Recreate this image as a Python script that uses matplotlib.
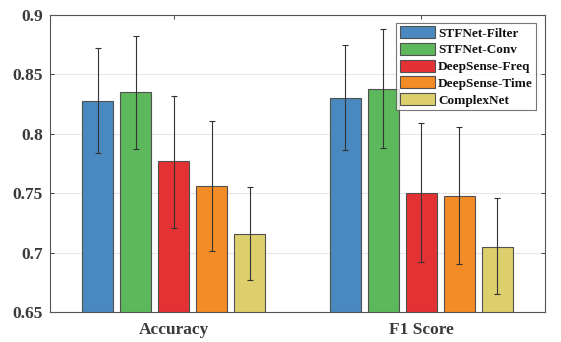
import matplotlib
matplotlib.use("Agg")
import matplotlib.pyplot as plt
import numpy as np

groups = ["Accuracy", "F1 Score"]
methods = ["STFNet-Filter", "STFNet-Conv", "DeepSense-Freq", "DeepSense-Time", "ComplexNet"]
colors = ["#4a89c0", "#5db85b", "#e43134", "#f38c26", "#dccf6c"]

acc = [0.828, 0.835, 0.777, 0.756, 0.716]
acc_lo = [0.784, 0.787, 0.721, 0.701, 0.677]
acc_hi = [0.872, 0.882, 0.832, 0.811, 0.755]
f1 = [0.830, 0.838, 0.750, 0.748, 0.705]
f1_lo = [0.786, 0.788, 0.692, 0.690, 0.665]
f1_hi = [0.875, 0.888, 0.809, 0.806, 0.746]

plt.rcParams['font.family'] = ['Liberation Serif', 'DejaVu Serif']
plt.rcParams['font.weight'] = 'bold'

fig = plt.figure(figsize=(5.61, 3.42), dpi=100)
ax = fig.add_axes([50/561, 1 - 312/342, 495/561, 297/342])

vals = np.array([acc, f1])
lo = np.array([acc_lo, f1_lo])
hi = np.array([acc_hi, f1_hi])
x = np.arange(1, len(groups) + 1)
step = 0.1535
width = 0.124
for i, m in enumerate(methods):
    xi = x + (i - 2) * step
    ax.bar(xi, vals[:, i], width, color=colors[i], edgecolor="#505050", linewidth=0.8,
           label=m, zorder=2)
    ax.errorbar(xi, vals[:, i], yerr=[vals[:, i] - lo[:, i], hi[:, i] - vals[:, i]],
                fmt="none", ecolor="#333333", elinewidth=0.8, capsize=2.5, capthick=0.8, zorder=3)

ax.set_xlim(0.5, 2.5)
ax.set_ylim(0.65, 0.9)
ax.set_xticks(x)
ax.set_xticklabels(groups)
ax.set_yticks([0.65, 0.7, 0.75, 0.8, 0.85, 0.9])
ax.set_yticklabels(["0.65", "0.7", "0.75", "0.8", "0.85", "0.9"])
ax.yaxis.grid(True, color="#e6e6e6", linewidth=0.8, zorder=0)
ax.set_axisbelow(True)
ax.tick_params(direction="in", top=True, right=True, length=3, width=0.6,
               colors="#262626", labelsize=12.5)
ax.tick_params(axis="x", pad=7)
ax.tick_params(axis="y", pad=5)
for lab in ax.get_xticklabels() + ax.get_yticklabels():
    lab.set_color("#3a3a3a")
    lab.set_fontweight("bold")
for s in ax.spines.values():
    s.set_color("#555555")
    s.set_linewidth(0.8)

leg = ax.legend(loc="upper right", fontsize=9.5, frameon=True, fancybox=False,
                handlelength=2.7, handleheight=1.0, borderpad=0.25, labelspacing=0.25,
                handletextpad=0.2, borderaxespad=0.0, bbox_to_anchor=(0.982, 0.973))
leg.get_frame().set_edgecolor("#555555")
leg.get_frame().set_linewidth(0.8)
for t in leg.get_texts():
    t.set_color("#111111")

fig.savefig("out.png", dpi=100)
